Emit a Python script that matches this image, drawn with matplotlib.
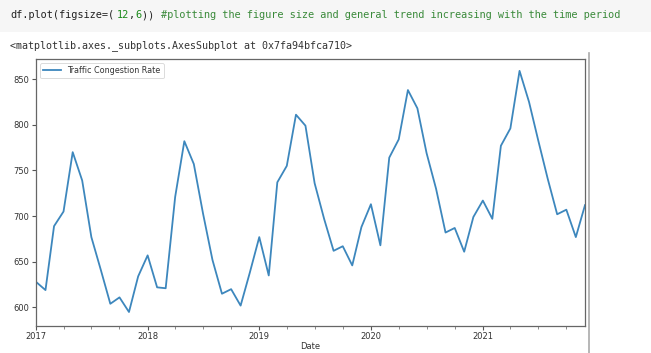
import matplotlib
matplotlib.use("Agg")
import matplotlib.pyplot as plt
import matplotlib.dates as mdates
from matplotlib.patches import Rectangle
from matplotlib.lines import Line2D
import pandas as pd

dates = pd.date_range("2017-01-01", periods=60, freq="MS")
rate_2017 = [628, 619, 689, 705, 770, 739, 677, 641, 604, 611, 595, 634]
rate_2018 = [657, 622, 621, 721, 782, 757, 703, 652, 615, 620, 602, 638]
rate_2019 = [677, 635, 737, 755, 811, 799, 736, 697, 662, 667, 646, 688]
rate_2020 = [713, 668, 764, 784, 838, 818, 769, 730, 682, 687, 661, 699]
rate_2021 = [717, 697, 777, 796, 859, 825, 783, 741, 702, 707, 677, 712]
values = rate_2017 + rate_2018 + rate_2019 + rate_2020 + rate_2021
yticks = [600, 650, 700, 750, 800, 850]
series_name = "Traffic Congestion Rate"

W, H = 651, 353
fig = plt.figure(figsize=(W / 100, H / 100), dpi=100)
fig.patch.set_facecolor("white")

# notebook code cell background
fig.patches.append(Rectangle((0, 1 - 32 / H), 1, 32 / H, transform=fig.transFigure,
                             facecolor="#f6f6f6", edgecolor="none", zorder=0))
mono = "DejaVu Sans Mono"
fs_code = 7.4
x0 = 10 / W
yc = 1 - 15 / H
parts = [("df.plot(figsize=(", "#222222"), ("12", "#1a8a1a"), (",", "#222222"),
         ("6", "#1a8a1a"), (")) ", "#222222"),
         ("#plotting the figure size and general trend increasing with the time period", "#3a8a3a")]
char_w = 6.28 / W
pos = 0
for txt, col in parts:
    fig.text(x0 + pos * char_w, yc, txt, family=mono, fontsize=fs_code, color=col,
             va="center", ha="left")
    pos += len(txt)
fig.text(x0, 1 - 46 / H, "<matplotlib.axes._subplots.AxesSubplot at 0x7fa94bfca710>",
         family=mono, fontsize=7.2, color="#333333", va="center", ha="left")

# right border line of output area
fig.add_artist(Line2D([589 / W, 589 / W], [0, 1 - 53 / H], transform=fig.transFigure,
                      color="#aaaaaa", lw=1.2))

ax = fig.add_axes([36 / W, 27.3 / H, (585 - 36) / W, (325.7 - 59) / H])
ax.plot(dates, values, color="#3d87bd", lw=1.3, label=series_name)
ax.set_xlim(dates[0], dates[-1])
ax.set_ylim(580, 872)
ax.set_yticks(yticks)
ax.xaxis.set_major_locator(mdates.YearLocator())
ax.xaxis.set_major_formatter(mdates.DateFormatter("%Y"))
ax.xaxis.set_minor_locator(mdates.MonthLocator(bymonth=[4, 7, 10]))
ax.tick_params(axis="both", which="major", labelsize=6, colors="#555555",
               labelcolor="#333333", length=3, width=0.8, pad=2)
ax.tick_params(axis="x", which="major", pad=1.5)
ax.tick_params(axis="x", which="minor", length=2, width=0.6, colors="#777777")
for sp in ax.spines.values():
    sp.set_color("#666666")
    sp.set_linewidth(0.9)
ax.set_xlabel("Date", fontsize=6, color="#333333", labelpad=0.5)
leg = ax.legend(loc="upper left", fontsize=5.8, frameon=True, handlelength=2.2,
                borderpad=0.4, handletextpad=0.8)
leg.get_frame().set_edgecolor("#cccccc")
leg.get_frame().set_linewidth(0.6)
for t in leg.get_texts():
    t.set_color("#333333")

fig.savefig("out.png", dpi=100)
